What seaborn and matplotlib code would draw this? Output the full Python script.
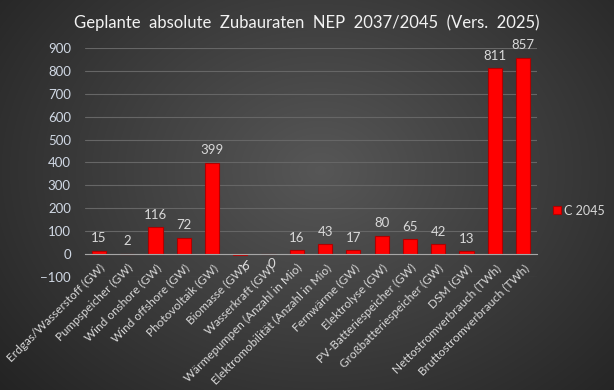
import numpy as np
import pandas as pd
import matplotlib
matplotlib.use('Agg')
import matplotlib.pyplot as plt
import seaborn as sns

categories = ['Erdgas/Wasserstoff (GW)', 'Pumpspeicher (GW)', 'Wind onshore (GW)',
              'Wind offshore (GW)', 'Photovoltaik (GW)', 'Biomasse (GW)', 'Wasserkraft (GW)',
              'Wärmepumpen (Anzahl in Mio)', 'Elektromobilität (Anzahl in Mio)',
              'Fernwärme (GW)', 'Elektrolyse (GW)', 'PV-Batteriespeicher (GW)',
              'Großbatteriespeicher (GW)', 'DSM (GW)', 'Nettostromverbrauch (TWh)',
              'Bruttostromverbrauch (TWh)']
values = [15, 2, 116, 72, 399, -6, -0.4, 16, 43, 17, 80, 65, 42, 13, 811, 857]
series_name = 'C 2045'

df = pd.DataFrame({'Kategorie': categories, 'Wert': values, 'Szenario': series_name})

sns.set_style('dark')
plt.rcParams['font.family'] = ['Lato', 'DejaVu Sans']
txt = '#d9d9d9'

fig = plt.figure(figsize=(6.14, 3.90), dpi=100)

# radialer Hintergrund
bg = fig.add_axes([0, 0, 1, 1], zorder=-10)
yy, xx = np.mgrid[0:390, 0:614]
r = np.sqrt(((xx - 320) / 420) ** 2 + ((yy - 170) / 330) ** 2)
shade = np.clip(0.34 - 0.2 * r, 0.14, 0.34)
bg.imshow(np.dstack([shade] * 3), aspect='auto', extent=[0, 1, 0, 1])
bg.axis('off')

ax = fig.add_axes([0.138, 0.290, 0.737, 0.587])
ax.set_facecolor('none')
sns.barplot(data=df, x='Kategorie', y='Wert', hue='Szenario', palette=['#ff0000'],
            saturation=1, width=0.5, edgecolor='#b00000', linewidth=0.8, ax=ax,
            legend=True, zorder=3)

ax.set_ylim(-100, 900)
ax.set_yticks(range(-100, 901, 100))
ax.set_xlim(-0.5, len(categories) - 0.5)
ax.grid(axis='y', color='#666666', linewidth=0.8, zorder=0)
ax.grid(axis='x', visible=False)
for s in ax.spines.values():
    s.set_visible(False)
ax.spines['bottom'].set_visible(True)
ax.spines['bottom'].set_position(('data', 0))
ax.spines['bottom'].set_color('#a6a6a6')
ax.spines['bottom'].set_zorder(4)
ax.set_xlabel('')
ax.set_ylabel('')
ax.tick_params(axis='both', length=0, colors=txt, labelsize=9.5)
ax.tick_params(axis='y', pad=10, colors='#d0d8e4')
ax.set_xticks(range(len(categories)))
ax.set_xticklabels(categories, rotation=45, ha='right', rotation_mode='anchor',
                   fontsize=8.5, color=txt)
ax.tick_params(axis='x', pad=6)

for i, v in enumerate(values):
    if v > 0:
        ax.text(i, v + 28, f'{round(v)}', ha='center', va='bottom', color=txt, fontsize=9.5)
    else:
        ax.text(i + 0.1, v - 45, f'{int(round(v))}', ha='center',
                va='center', color=txt, fontsize=9.5)

leg = ax.legend(loc='center left', bbox_to_anchor=(1.035, 0.29), frameon=False,
                borderaxespad=0, borderpad=0, handlelength=0.6, handleheight=0.6,
                handletextpad=0.3, fontsize=9)
for t in leg.get_texts():
    t.set_color(txt)

fig.text(0.5, 0.942, 'Geplante  absolute  Zubauraten  NEP  2037/2045  (Vers.  2025)',
         ha='center', va='center', color='#f2f2f2', fontsize=12)

fig.savefig('out.png', dpi=100)
